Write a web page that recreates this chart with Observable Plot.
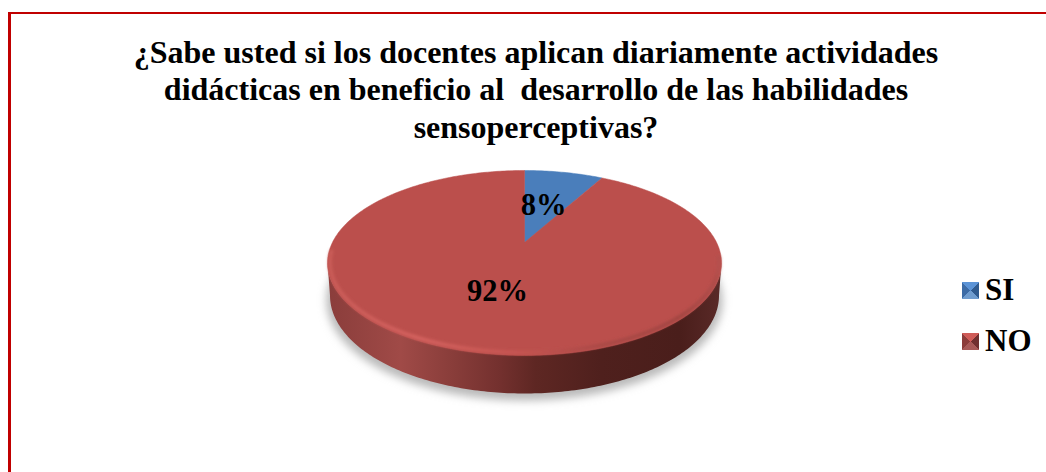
<!DOCTYPE html>
<html lang="es">
<head>
<meta charset="utf-8">
<script src="https://cdn.jsdelivr.net/npm/d3@7"></script>
<script src="https://cdn.jsdelivr.net/npm/@observablehq/plot@0.6"></script>
<style>
  html, body { margin: 0; padding: 0; background: #fff; overflow: hidden; }
  #page { position: relative; width: 1046px; height: 472px; font-family: "Liberation Serif", serif; color: #000; }
  #frame { position: absolute; left: 8px; top: 12px; right: 0; bottom: 0; border-left: 3px solid #c00000; border-top: 2px solid #c00000; }
  .tl { position: absolute; left: 0; width: 1072px; text-align: center; font-weight: bold; font-size: 32px; line-height: 30px; white-space: pre; }
  #chart { position: absolute; left: 0; top: 150px; }
  #chart svg { display: block; background: transparent; }
  .lg { position: absolute; left: 962px; display: flex; align-items: center; font-weight: bold; font-size: 31px; line-height: 34px; }
  .sw { width: 17px; height: 17px; margin-right: 6px; }
</style>
</head>
<body>
<div id="page">
  <div id="frame"></div>
  <div id="titleBox"></div>
  <div id="chart"></div>
  <div id="legend"></div>
</div>
<script>
// ---- data ----
const titleLines = [
  "¿Sabe usted si los docentes aplican diariamente actividades",
  "didácticas en beneficio al  desarrollo de las habilidades",
  "sensoperceptivas?"
];
const categories = ["SI", "NO"];
const percents = [8, 92];
const colors = ["#4a7ebb", "#bb4f4c"];

// ---- page layout ----
const W = 950, H = 322, top0 = 150, cxPage = 524, cyPage = 262;
const titleBaselines = [37, 74, 112];
titleLines.forEach((t, i) => {
  const d = document.createElement("div");
  d.className = "tl"; d.textContent = t; d.style.top = titleBaselines[i] + "px";
  document.getElementById("titleBox").appendChild(d);
});

// ---- 3D disc geometry: unit circle seen in perspective ----
const RX = 197, RY = 92.5, APEX = 20;
const k = 0.2216, d0 = RX * Math.sqrt(1 - k * k), a0 = 92.4;
// angle in percent of the full turn, clockwise from twelve o'clock; result in pixels around the disc centre, y down
function disc(pct) {
  const t = pct / 100 * 2 * Math.PI, u = Math.sin(t), v = Math.cos(t), w = 1 + k * v;
  return { x: d0 * u / w, y: -(a0 * v + APEX) / w };
}
const apex = { x: 0, y: -APEX };

// slices
let acc = 0;
const slices = categories.flatMap((c, i) => {
  const start = acc, end = acc + percents[i]; acc = end;
  const pts = [{ c, ...apex }];
  for (let p = start; p <= end + 1e-9; p += 0.25) pts.push({ c, ...disc(p) });
  pts.push({ c, ...apex });
  return pts;
});

const ellipse = (cy, rx, ry, from, to, n = 180) =>
  d3.range(n + 1).map(i => {
    const a = from + (to - from) * i / n;
    return { x: rx * Math.cos(a), y: cy + ry * Math.sin(a) };
  });
const frontTop = ellipse(0, RX, RY, Math.PI, 0);
const frontBottom = ellipse(33, 194.5, 98, 0, Math.PI);
const sidePts = [...frontTop, ...frontBottom];
const rimPts = ellipse(0, RX - 2.5, RY - 2.5, Math.PI * 1.04, -Math.PI * 0.02);
const shadowPts = ellipse(38, 198, 100, 0, 2 * Math.PI);

const labelOffset = { SI: [19, -57], NO: [-27, 29] };
const labels = categories.map((c, i) => ({
  text: percents[i] + "%", x: labelOffset[c][0], y: labelOffset[c][1]
}));

// ---- defs: gradients and blurs ----
function defs() {
  const s = d3.create("svg:defs");
  const grad = (id, stops) => {
    const g = s.append("linearGradient").attr("id", id)
      .attr("gradientUnits", "userSpaceOnUse")
      .attr("x1", 327).attr("x2", 721).attr("y1", 0).attr("y2", 0);
    stops.forEach(([x, col]) => g.append("stop").attr("offset", (x - 327) / 394).attr("stop-color", col));
  };
  grad("sideGrad", [[327, "#8a3d3b"], [400, "#a04a47"], [445, "#8c3f3c"], [500, "#73302e"], [535, "#5e2723"], [600, "#4f201d"], [680, "#4a1e1b"], [721, "#5a2a28"]]);
  grad("rimGrad", [[327, "#cb5d59"], [420, "#d66360"], [520, "#c65551"], [600, "#a84845"], [680, "#a04441"], [715, "#ae4c49"], [721, "#b85350"]]);
  s.append("filter").attr("id", "blur6").attr("x", "-20%").attr("y", "-20%").attr("width", "140%").attr("height", "140%")
    .append("feGaussianBlur").attr("stdDeviation", 4);
  s.append("filter").attr("id", "blur1").attr("x", "-5%").attr("y", "-20%").attr("width", "110%").attr("height", "140%")
    .append("feGaussianBlur").attr("stdDeviation", 1.5);
  return s.node();
}
const withFilter = id => function (index, scales, values, dims, ctx, next) {
  const g = next(index, scales, values, dims, ctx);
  g.setAttribute("filter", `url(#${id})`);
  return g;
};

// ---- chart ----
const chart = Plot.plot({
  width: W, height: H,
  marginTop: 0, marginRight: 0, marginBottom: 0, marginLeft: 0,
  x: { domain: [-cxPage, W - cxPage], axis: null },
  y: { domain: [top0 - cyPage, top0 - cyPage + H], range: [0, H], axis: null },
  color: { domain: categories, range: colors },
  style: { fontFamily: '"Liberation Serif", serif', background: "transparent" },
  marks: [
    defs,
    Plot.line(shadowPts, { x: "x", y: "y", fill: "#b9b9b9", stroke: "none", render: withFilter("blur6") }),
    Plot.line(sidePts, { x: "x", y: "y", fill: "url(#sideGrad)", stroke: "none" }),
    Plot.line(slices, { x: "x", y: "y", z: "c", fill: "c", stroke: "c", strokeWidth: 0.5 }),
    Plot.line(rimPts, { x: "x", y: "y", stroke: "url(#rimGrad)", strokeWidth: 3.5, render: withFilter("blur1") }),
    Plot.text(labels, { x: "x", y: "y", text: "text", fontSize: 30.5, fontWeight: "bold", fill: "#000" })
  ]
});
document.getElementById("chart").appendChild(chart);

// ---- legend ----
const swatches = {
  SI: ["#5b93d6", "#2f5a8f", "#6f9ccf", "#3c6ba6"],
  NO: ["#cf5c58", "#703030", "#a85a58", "#8c3c3a"]
};
const legendTops = [273, 324];
categories.forEach((c, i) => {
  const [t, r, b, l] = swatches[c];
  const row = document.createElement("div");
  row.className = "lg"; row.style.top = legendTops[i] + "px";
  row.innerHTML = `<span class="sw" style="background:conic-gradient(${t} 0 45deg, ${r} 45deg 135deg, ${b} 135deg 225deg, ${l} 225deg 315deg, ${t} 315deg)"></span>${c}`;
  document.getElementById("legend").appendChild(row);
});
</script>
</body>
</html>
